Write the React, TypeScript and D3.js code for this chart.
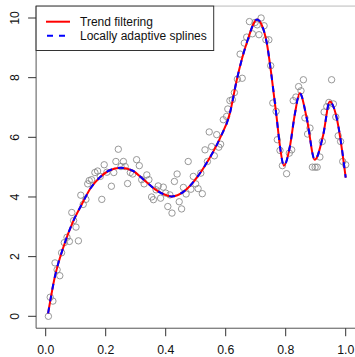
import React from "react";
import * as d3 from "d3";

// observed data (noisy points)
const pointX = [
  0.009, 0.015, 0.024, 0.031, 0.038, 0.047, 0.053, 0.062, 0.071, 0.079, 0.087, 0.093, 0.101, 0.109,
  0.117, 0.125, 0.134, 0.14, 0.145, 0.153, 0.164, 0.173, 0.182, 0.187, 0.195, 0.204, 0.219, 0.227,
  0.234, 0.242, 0.251, 0.259, 0.265, 0.273, 0.282, 0.29, 0.303, 0.312, 0.32, 0.328, 0.337, 0.344,
  0.353, 0.359, 0.368, 0.375, 0.383, 0.392, 0.4, 0.407, 0.414, 0.421, 0.429, 0.438, 0.445, 0.453,
  0.459, 0.468, 0.475, 0.484, 0.492, 0.5, 0.508, 0.517, 0.522, 0.531, 0.539, 0.545, 0.553, 0.562,
  0.57, 0.577, 0.583, 0.592, 0.603, 0.607, 0.614, 0.622, 0.629, 0.639, 0.648, 0.655, 0.662, 0.67,
  0.679, 0.689, 0.698, 0.705, 0.711, 0.718, 0.728, 0.734, 0.744, 0.75, 0.757, 0.768, 0.772, 0.781,
  0.789, 0.803, 0.812, 0.82, 0.825, 0.834, 0.843, 0.851, 0.859, 0.864, 0.873, 0.881, 0.889, 0.898,
  0.905, 0.914, 0.922, 0.928, 0.937, 0.944, 0.953, 0.959, 0.967, 0.975, 0.983, 0.99, 1.0,
];
const pointY = [
  0.0, 0.64, 0.51, 1.79, 1.56, 1.36, 2.13, 2.47, 2.65, 2.51, 3.48, 3.21, 2.99, 2.53,
  4.06, 3.75, 3.92, 4.44, 4.55, 4.58, 4.82, 4.87, 4.69, 3.92, 5.08, 4.83, 4.36, 4.82,
  5.19, 5.6, 5.02, 5.19, 5.02, 4.45, 4.82, 4.77, 5.25, 5.05, 4.58, 4.44, 4.74, 4.58,
  4.0, 3.91, 4.24, 4.37, 3.96, 4.33, 4.13, 3.68, 4.07, 3.46, 4.52, 4.77, 3.84, 3.6,
  4.32, 4.1, 5.19, 4.26, 4.69, 4.44, 4.28, 4.8, 4.11, 5.58, 5.19, 6.18, 5.69, 5.38,
  6.09, 5.67, 5.77, 6.59, 6.7, 6.95, 7.23, 7.26, 7.5, 7.95, 8.79, 7.98, 9.16, 9.36,
  9.88, 9.47, 9.85, 9.77, 9.44, 10.0, 9.74, 9.27, 9.27, 8.4, 7.15, 6.87, 5.92, 5.56,
  5.05, 4.78, 5.47, 5.58, 7.23, 7.35, 7.7, 7.56, 7.93, 6.65, 6.11, 6.31, 5.0, 5.0,
  5.0, 5.34, 5.86, 6.85, 7.03, 7.17, 7.93, 7.12, 6.68, 6.05, 5.86, 5.19, 5.08,
];

// fitted curve (trend filtering / locally adaptive splines, nearly identical)
const fitX = [
  0.008, 0.03, 0.06, 0.09, 0.12, 0.15, 0.18, 0.21, 0.25, 0.29, 0.33, 0.37, 0.42, 0.46, 0.5,
  0.54, 0.58, 0.614, 0.637, 0.67, 0.705, 0.72, 0.737, 0.753, 0.77, 0.781, 0.794, 0.814, 0.83,
  0.847, 0.87, 0.897, 0.925, 0.947, 0.97, 1.0,
];
const fitY = [
  0.1, 1.3, 2.35, 3.15, 3.75, 4.3, 4.65, 4.88, 4.98, 4.88, 4.55, 4.22, 4.02, 4.18, 4.6,
  5.2, 5.95, 6.81, 7.93, 9.16, 9.95, 9.77, 9.16, 8.04, 6.65, 5.69, 5.05, 5.69, 6.75,
  7.48, 6.65, 5.25, 6.08, 7.2, 6.65, 4.65,
];

const xTicks = [0, 0.2, 0.4, 0.6, 0.8, 1.0];
const yTicks = [0, 2, 4, 6, 8, 10];
const legendLabels = ["Trend filtering", "Locally adaptive splines"];

const W = 355;
const H = 357;
const FONT = "'Liberation Sans', Arial, Helvetica, sans-serif";

export default function App() {
  const x = d3.scaleLinear().domain([0, 1]).range([45.7, 345.7]);
  const y = d3.scaleLinear().domain([0, 10]).range([316.3, 18]);

  // R-style plot region (4% expansion)
  const left = x(-0.032);
  const right = x(1.04);
  const top = y(10.4);
  const bottom = y(-0.4);

  const line = d3
    .line<number>()
    .x((_, i) => x(fitX[i]))
    .y((d) => y(d))
    .curve(d3.curveMonotoneX);
  const path = line(fitY) || "";

  return (
    <svg
      width={W}
      height={H}
      style={{ position: "absolute", left: 0, top: 0, background: "#fff" }}
      fontFamily={FONT}
    >
      {/* box */}
      <line x1={left} x2={right} y1={top} y2={top} stroke="#bbb" strokeWidth={1} />
      <line x1={left} x2={left} y1={top} y2={bottom} stroke="#555" strokeWidth={1} />
      <line x1={left} x2={right} y1={bottom} y2={bottom} stroke="#555" strokeWidth={1} />

      {/* x axis */}
      {xTicks.map((t) => (
        <g key={"x" + t}>
          <line x1={x(t)} x2={x(t)} y1={bottom} y2={bottom + 8} stroke="#333" />
          <text x={x(t)} y={354} textAnchor="middle" fontSize={12.3} fill="#111">
            {t.toFixed(1)}
          </text>
        </g>
      ))}

      {/* y axis */}
      {yTicks.map((t) => (
        <g key={"y" + t}>
          <line x1={left - 8} x2={left} y1={y(t)} y2={y(t)} stroke="#333" />
          <text
            transform={`translate(19,${y(t)}) rotate(-90)`}
            textAnchor="middle"
            fontSize={12.3}
            fill="#111"
          >
            {t}
          </text>
        </g>
      ))}

      {/* points */}
      {pointY.map((v, i) => (
        <circle
          key={i}
          cx={x(pointX[i])}
          cy={y(v)}
          r={3.2}
          fill="none"
          stroke="#8c8c8c"
          strokeWidth={0.9}
        />
      ))}

      {/* fits */}
      <path d={path} fill="none" stroke="#ff0000" strokeWidth={2} />
      <path d={path} fill="none" stroke="#0000ff" strokeWidth={2} strokeDasharray="6,6" />

      {/* legend */}
      <rect x={left} y={top} width={213.7 - left} height={50.5 - top} fill="#fff" stroke="#333" strokeWidth={1} />
      <line x1={46} x2={70} y1={21.7} y2={21.7} stroke="#ff0000" strokeWidth={2} />
      <line x1={46} x2={70} y1={35.7} y2={35.7} stroke="#0000ff" strokeWidth={2} strokeDasharray="6,6" strokeDashoffset={-1} />
      {legendLabels.map((lab, i) => (
        <text key={lab} x={80} y={26 + i * 14.2} fontSize={12} fill="#111">
          {lab}
        </text>
      ))}
    </svg>
  );
}
